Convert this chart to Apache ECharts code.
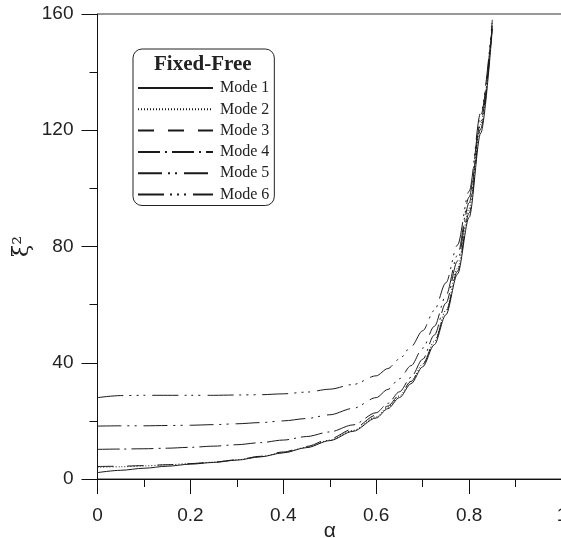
<!DOCTYPE html>
<html>
<head>
<meta charset="utf-8">
<script src="https://cdn.jsdelivr.net/npm/echarts@6/dist/echarts.min.js"></script>
<style>
  html, body { margin: 0; padding: 0; background: #fff; }
  #chart { width: 561px; height: 538px; }
</style>
</head>
<body>
<div id="chart"></div>
<script>
// Non-dimensional frequency parameter xi^2 versus taper ratio alpha, fixed-free case
const alpha = [0, 0.05, 0.1, 0.15, 0.2, 0.25, 0.3, 0.35, 0.4, 0.45, 0.5, 0.55, 0.6,
               0.625, 0.65, 0.675, 0.7, 0.725, 0.75, 0.775, 0.8, 0.825, 0.85];

const mode1 = [2.2, 3.0, 3.7, 4.4, 5.1, 5.7, 6.5, 7.6, 9.0, 10.8, 13.2, 16.4, 21.0,
               24.2, 28.0, 32.8, 38.6, 46.2, 56.5, 70.5, 90.0, 119.0, 155.0];
const mode2 = [4.0, 4.2, 4.5, 4.9, 5.3, 5.8, 6.6, 7.7, 9.1, 10.9, 13.4, 16.7, 21.4,
               24.7, 28.6, 33.5, 39.5, 47.3, 58.0, 72.5, 93.0, 122.0, 157.0];
const mode3 = [4.3, 4.4, 4.6, 4.9, 5.3, 5.8, 6.6, 7.8, 9.3, 11.2, 13.8, 17.2, 22.0,
               25.1, 28.9, 33.6, 39.4, 47.0, 57.3, 71.5, 91.5, 120.5, 156.0];
const mode4 = [10.2, 10.3, 10.4, 10.6, 10.9, 11.3, 11.8, 12.5, 13.4, 14.6, 16.2, 18.6, 22.8,
               26.0, 30.0, 35.0, 41.2, 49.5, 60.5, 75.0, 95.0, 123.0, 156.0];
const mode5 = [18.2, 18.3, 18.3, 18.4, 18.5, 18.7, 19.0, 19.4, 20.0, 20.8, 22.1, 24.3, 28.0,
               30.8, 34.5, 39.0, 45.0, 52.5, 63.0, 77.0, 97.0, 125.0, 157.0];
const mode6 = [28.0, 28.7, 28.8, 28.8, 28.8, 28.8, 28.9, 29.0, 29.3, 29.9, 30.9, 32.5, 35.5,
               38.0, 41.3, 45.5, 51.0, 58.0, 67.5, 80.5, 99.0, 126.0, 158.0];

const modeNames = ['Mode 1', 'Mode 2', 'Mode 3', 'Mode 4', 'Mode 5', 'Mode 6'];
const modeValues = [mode1, mode2, mode3, mode4, mode5, mode6];
const xTicks = { min: 0, max: 1, interval: 0.2 };
const yTicks = { min: 0, max: 160, interval: 40 };

// dash patterns: solid, dotted, dashed, dash-dot, dash-dot-dot, dash-dot-dot-dot
const dashes = ['solid', [1, 2], [16, 14], [22, 5, 2, 5], [24, 6, 2, 5, 2, 7], [26, 6, 2, 5, 2, 5, 2, 7]];

const chart = echarts.init(document.getElementById('chart'), null, { renderer: 'canvas' });

const labelFont = { fontFamily: '"Liberation Sans", Arial, sans-serif', fontSize: 19, color: '#222' };

const series = modeNames.map((name, i) => ({
  name: name,
  type: 'line',
  data: alpha.map((a, k) => [a, modeValues[i][k]]),
  symbol: 'none',
  smooth: 0.3,
  smoothMonotone: 'x',
  lineStyle: { color: '#1a1a1a', width: 1, type: dashes[i] },
  itemStyle: { color: '#1a1a1a' },
  emphasis: { disabled: true },
  animation: false
}));

chart.setOption({
  animation: false,
  grid: {
    left: 97.5, right: -1, top: 14, bottom: 59,
    outerBoundsMode: 'none',
    containLabel: false,
    show: true, borderColor: '#333', borderWidth: 1, backgroundColor: 'transparent'
  },
  xAxis: {
    type: 'value',
    min: xTicks.min, max: xTicks.max, interval: xTicks.interval,
    name: 'α',
    nameLocation: 'middle',
    nameGap: 42,
    nameMoveOverlap: false,
    nameTextStyle: { fontFamily: '"Liberation Sans", Arial, sans-serif', fontSize: 21, color: '#222' },
    axisLine: { show: true, lineStyle: { color: '#111', width: 1 } },
    axisTick: { show: true, length: 15, lineStyle: { color: '#111' } },
    minorTick: { show: true, splitNumber: 2, length: 8, lineStyle: { color: '#111' } },
    axisLabel: Object.assign({ margin: 27, showMaxLabel: true, showMinLabel: true }, labelFont),
    splitLine: { show: false },
    minorSplitLine: { show: false }
  },
  yAxis: {
    type: 'value',
    min: yTicks.min, max: yTicks.max, interval: yTicks.interval,
    name: 'ξ²',
    nameLocation: 'middle',
    nameGap: 64,
    nameMoveOverlap: false,
    nameTextStyle: { fontFamily: '"DejaVu Serif", "Liberation Serif", serif', fontSize: 22, color: '#222' },
    axisLine: { show: true, lineStyle: { color: '#111', width: 1 } },
    axisTick: { show: true, length: 16, lineStyle: { color: '#111' } },
    minorTick: { show: true, splitNumber: 2, length: 8, lineStyle: { color: '#111' } },
    axisLabel: Object.assign({ margin: 24 }, labelFont),
    splitLine: { show: false },
    minorSplitLine: { show: false }
  },
  legend: {
    orient: 'vertical',
    left: 133,
    top: 49,
    padding: [31, 5, 3, 4],
    itemGap: 5.3,
    itemWidth: 75,
    itemHeight: 14,
    backgroundColor: '#fff',
    borderColor: '#222',
    borderWidth: 1,
    borderRadius: 9,
    selectedMode: false,
    data: modeNames,
    itemStyle: { color: 'rgba(0,0,0,0)', borderWidth: 0, opacity: 0 },
    textStyle: {
      fontFamily: '"Liberation Serif", "Times New Roman", serif',
      fontSize: 16,
      color: '#222',
      padding: [0, 0, 0, 2]
    }
  },
  graphic: [{
    type: 'text',
    left: 154,
    top: 54,
    z: 100,
    style: {
      text: 'Fixed-Free',
      font: 'bold 21px "Liberation Serif", "Times New Roman", serif',
      fill: '#222'
    }
  }],
  series: series
});
</script>
</body>
</html>
